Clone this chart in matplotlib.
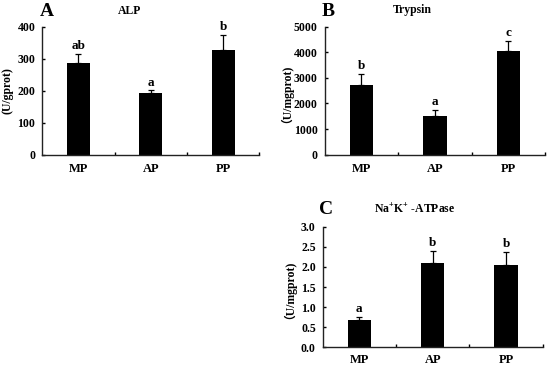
import matplotlib
matplotlib.use("Agg")
import matplotlib.pyplot as plt
import numpy as np

categories = ["MP", "AP", "PP"]

alp_values = [287, 194, 327]
alp_err = [29, 7, 48]
alp_letters = ["ab", "a", "b"]

trypsin_values = [2734, 1530, 4039]
trypsin_err = [427, 218, 404]
trypsin_letters = ["b", "a", "c"]

atpase_values = [0.69, 2.10, 2.05]
atpase_err = [0.06, 0.30, 0.32]
atpase_letters = ["a", "b", "b"]

plt.rcParams['font.family'] = ['Liberation Serif', 'Noto Sans CJK SC', 'DejaVu Sans']
plt.rcParams['font.weight'] = 'bold'
plt.rcParams['mathtext.fontset'] = 'custom'
plt.rcParams['mathtext.rm'] = 'Liberation Serif:bold'
plt.rcParams['mathtext.bf'] = 'Liberation Serif:bold'

W, H = 550, 367
fig = plt.figure(figsize=(5.5, 3.67), dpi=100)

def make_ax(x0, x1, ytop, ybot):
    return fig.add_axes([x0 / W, 1 - ybot / H, (x1 - x0) / W, (ybot - ytop) / H])

def panel(ax, values, err, letters, ylim, yticks, fmt, ylabel, ylab_x, lab_off, xpad):
    x = np.arange(len(categories))
    ax.bar(x, values, width=0.32, color='black', zorder=2)
    ax.errorbar(x, values, yerr=[np.zeros(len(err)), err], fmt='none',
                ecolor='black', elinewidth=0.9, capsize=2.5, capthick=0.9, zorder=1)
    for xi, v, e, l in zip(x, values, err, letters):
        ax.text(xi, v + e + lab_off, l, ha='center', va='bottom', fontsize=9.5, fontweight='bold')
    ax.set_xlim(-0.5, 2.5)
    ax.set_ylim(*ylim)
    ax.set_yticks(yticks)
    ax.set_yticklabels([fmt.format(t) for t in yticks], fontsize=8.5, fontweight='bold')
    ax.set_xticks([0.5, 1.5, 2.5])
    ax.set_xticklabels([])
    ax.set_xticks(x, minor=True)
    ax.set_xticklabels(categories, minor=True, fontsize=9, fontweight='bold')
    ax.tick_params(axis='x', which='minor', length=0, pad=xpad)
    ax.tick_params(axis='x', which='major', length=2.5, width=1, direction='in')
    ax.tick_params(axis='y', length=2.5, width=1, direction='in', pad=5)
    for s in ['top', 'right']:
        ax.spines[s].set_visible(False)
    for s in ['left', 'bottom']:
        ax.spines[s].set_linewidth(1.0)
        ax.spines[s].set_color('#222222')
    ax.set_ylabel(ylabel, fontsize=8.5, fontweight='bold')
    ax.yaxis.set_label_coords(ylab_x, 0.5)

def ftext(px, py, s, size, ha='center'):
    fig.text(px / W, 1 - py / H, s, ha=ha, va='center', fontsize=size, fontweight='bold')

axA = make_ax(42.3, 259.3, 26.7, 154.7)
panel(axA, alp_values, alp_err, alp_letters, (0, 400), [0, 100, 200, 300, 400], "{:d}",
      "(U/gprot)", -0.135, 5, 6)
ftext(40, 11, "A", 14, ha='left')
ftext(130, 11, "ALP", 8.5)

axB = make_ax(324.7, 545, 26.7, 154.7)
panel(axB, trypsin_values, trypsin_err, trypsin_letters, (0, 5000),
      [0, 1000, 2000, 3000, 4000, 5000], "{:d}", "（U/mgprot)", -0.171, 80, 6)
ftext(322, 11, "B", 14, ha='left')
ftext(412, 10, "Trypsin", 8.5)

axC = make_ax(322.7, 542.7, 226.7, 347.3)
panel(axC, atpase_values, atpase_err, atpase_letters, (0, 3.0),
      [0, 0.5, 1.0, 1.5, 2.0, 2.5, 3.0], "{:.1f}", "（U/mgprot)", -0.149, 0.05, 4.5)
ftext(319, 209, "C", 14, ha='left')
ftext(415, 209, "$\\mathrm{Na^{+}K^{+}}$ -ATPase", 8.5)

fig.savefig("out.png", dpi=100)
